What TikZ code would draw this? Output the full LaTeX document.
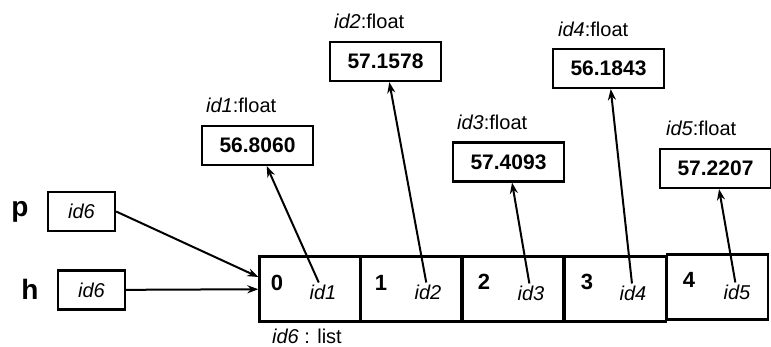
\documentclass[tikz,border=0pt]{standalone}
\usepackage{fontspec}
\setmainfont{Liberation Sans}
\usetikzlibrary{arrows.meta,calc}
\begin{document}
\begin{tikzpicture}[x=1pt,y=-1pt,
  line width=2.3pt,
  cell/.style={draw,minimum width=101pt,minimum height=65pt,inner sep=0pt},
  fbox/.style={draw,minimum width=111pt,minimum height=39pt,inner sep=0pt,font=\fontsize{21}{21}\selectfont\bfseries},
  vbox/.style={draw,minimum width=67pt,minimum height=39pt,inner sep=0pt,font=\fontsize{20}{20}\selectfont\itshape},
  idx/.style={font=\fontsize{22}{22}\selectfont\bfseries,inner sep=0pt},
  ent/.style={font=\fontsize{20}{20}\selectfont\itshape,inner sep=1pt},
  lbl/.style={font=\fontsize{20}{20}\selectfont,inner sep=0pt,anchor=base west},
  var/.style={font=\fontsize{28}{28}\selectfont\bfseries,inner sep=0pt},
  arr/.style={-{Stealth[length=11pt,width=8pt]},line width=2pt}]
\useasboundingbox (0,0) rectangle (771,347);
% list cells
\node[cell] (c0) at (310,289) {};
\node[cell] (c1) at (411,289) {};
\node[cell] (c2) at (513,289) {};
\node[cell] (c3) at (615.5,289) {};
\node[cell] (c4) at (717.5,287) {};
\node[idx] (n0) at (277,283) {0};
\node[idx] (n1) at (381,283) {1};
\node[idx] (n2) at (484,282) {2};
\node[idx] (n3) at (587,282) {3};
\node[idx] (n4) at (689,280) {4};
\node[ent] (e1) at (323,292) {id1};
\node[ent] (e2) at (428,292) {id2};
\node[ent] (e3) at (531,293) {id3};
\node[ent] (e4) at (633,293) {id4};
\node[ent] (e5) at (737,292) {id5};
\node[lbl] (lt) at (271,344) {\textit{id6} : list};
% float boxes
\node[fbox] (f1) at (257.5,145.5) {56.8060};
\node[fbox] (f2) at (385.5,61.5) {57.1578};
\node[fbox] (f3) at (508.5,162) {57.4093};
\node[fbox] (f4) at (608.5,68.5) {56.1843};
\node[fbox] (f5) at (715.5,168.5) {57.2207};
\node[lbl] (l1) at (205,113) {\textit{id1}:float};
\node[lbl] (l2) at (333,29) {\textit{id2}:float};
\node[lbl] (l3) at (456,130) {\textit{id3}:float};
\node[lbl] (l4) at (557,37) {\textit{id4}:float};
\node[lbl] (l5) at (665,136) {\textit{id5}:float};
% variables
\node[var] (p) at (20,212) {p};
\node[var] (h) at (30,289) {h};
\node[vbox] (pb) at (81.5,211.5) {id6};
\node[vbox] (hb) at (91.5,290) {id6};
% arrows
\draw[arr] (pb.east) -- ($(c0.west)+(0,-12)$);
\draw[arr] (hb) -- (c0);
\draw[arr] (e1) -- (f1);
\draw[arr] (e2) -- (f2);
\draw[arr] (e3) -- (f3);
\draw[arr] (e4) -- (f4);
\draw[arr] (e5) -- (f5);
\end{tikzpicture}
\end{document}
